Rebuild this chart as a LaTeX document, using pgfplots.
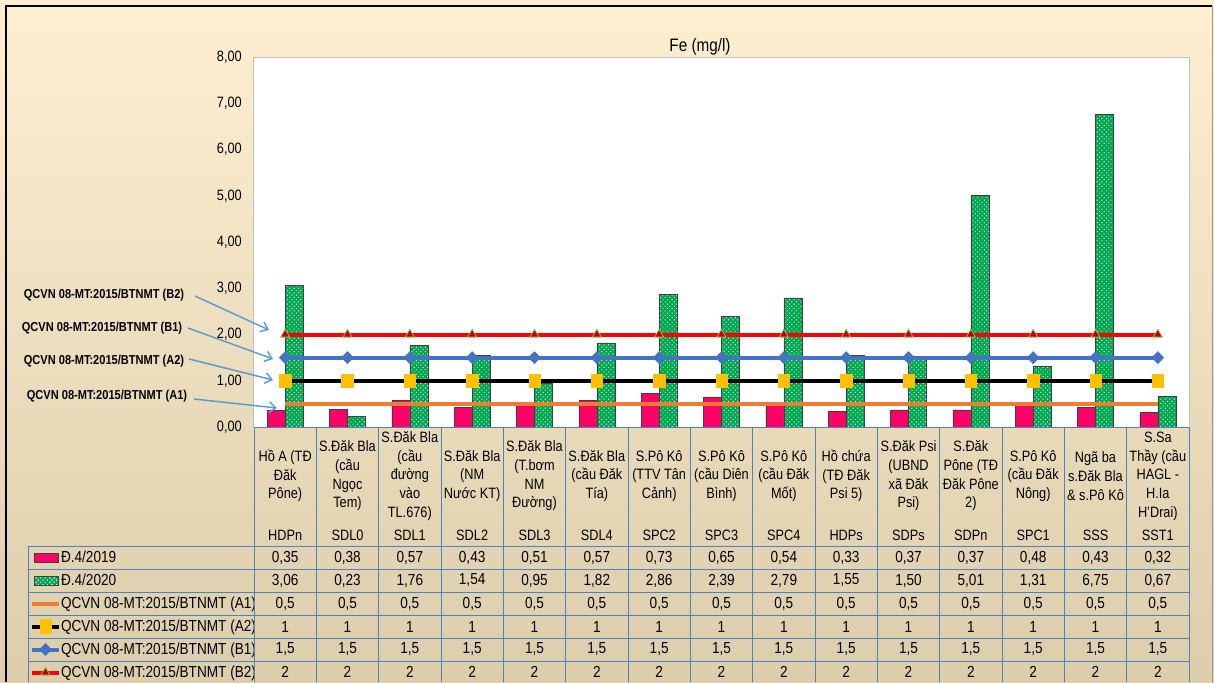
\documentclass[border=0pt]{standalone}
\usepackage{fontspec}
\setmainfont{Liberation Sans}[FakeStretch=0.85]
\usepackage{pgfplots}
\pgfplotsset{compat=1.18}
\usetikzlibrary{patterns.meta,arrows.meta}
\definecolor{bgtop}{RGB}{253,239,208}
\definecolor{bgbot}{RGB}{220,206,172}
\definecolor{pinkbar}{RGB}{255,0,102}
\definecolor{greenbar}{RGB}{0,168,80}
\definecolor{orA}{RGB}{237,125,49}
\definecolor{yelA}{RGB}{255,192,0}
\definecolor{bluB}{RGB}{68,114,196}
\definecolor{redB}{RGB}{255,0,0}
\definecolor{drB}{RGB}{192,0,0}
\definecolor{olB}{RGB}{155,187,89}
\definecolor{tblue}{RGB}{79,129,189}
\definecolor{arrowc}{RGB}{91,155,213}
\definecolor{plotborder}{RGB}{191,191,191}
\pgfkeys{/pgf/number format/assume math mode=true}
\pgfplotsset{
  mylinelegend/.style={legend image code/.code={\draw[##1, mark repeat=2, mark phase=2] plot coordinates {(0pt,3.875pt) (10.125pt,3.875pt) (20.25pt,3.875pt)};}},
  pinklegend/.style={legend image code/.code={\draw[fill=pinkbar, draw=black!75, line width=0.5pt] (1.5pt,0.5pt) rectangle (19.5pt,7.25pt);}},
  greenlegend/.style={legend image code/.code={\draw[fill=greenbar, draw=black!75, line width=0.5pt, postaction={pattern={Dots[distance=2.4pt,radius=0.5pt,angle=45]}, pattern color=white}] (1.5pt,0.5pt) rectangle (19.5pt,7.25pt);}},
}
\begin{document}
\begin{tikzpicture}
\shade[top color=bgtop, bottom color=bgbot] (0pt,0pt) rectangle (910.5pt,-511.5pt);
\useasboundingbox (0pt,0pt) rectangle (910.5pt,-511.5pt);
\begin{axis}[
  at={(190.5pt,-320.25pt)}, anchor=south west,
  width=701.25pt, height=277.5pt, scale only axis,
  xmin=0.5, xmax=15.5, ymin=0, ymax=8,
  xtick=\empty, ytick={0,1,...,8},
  major tick length=0pt,
  axis line style={draw=plotborder, line width=0.75pt},
  axis background/.style={fill=white},
  /pgf/number format/assume math mode=true,
  yticklabel style={/pgf/number format/.cd, fixed, fixed zerofill, precision=2, use comma, /tikz/.cd, font=\fontsize{11.25}{13}\selectfont, inner sep=0pt, anchor=east, xshift=-9pt},
  legend cell align=left,
  legend style={at={(-0.23957,-0.32162)}, anchor=north west, draw=none, fill=none, inner sep=0pt, outer sep=0pt, row sep=0pt, column sep=0pt, font=\fontsize{12}{14}\selectfont, nodes={inner sep=0pt, outer sep=0pt, text height=12.5pt, text depth=4.75pt, anchor=base west}},
]
\addplot[ybar, bar width=13.5pt, bar shift=-6.75pt, fill=pinkbar, draw=black!75, line width=0.5pt, pinklegend]
  coordinates {(1,0.35) (2,0.38) (3,0.57) (4,0.43) (5,0.51) (6,0.57) (7,0.73) (8,0.65) (9,0.54) (10,0.33) (11,0.37) (12,0.37) (13,0.48) (14,0.43) (15,0.32)};
\addplot[ybar, bar width=13.5pt, bar shift=6.75pt, fill=greenbar, draw=black!75, line width=0.5pt,
  postaction={pattern={Dots[distance=2.4pt,radius=0.5pt,angle=45]}, pattern color=white}, greenlegend]
  coordinates {(1,3.06) (2,0.23) (3,1.76) (4,1.54) (5,0.95) (6,1.82) (7,2.86) (8,2.39) (9,2.79) (10,1.55) (11,1.50) (12,5.01) (13,1.31) (14,6.75) (15,0.67)};
\addplot[orA, line width=3pt, no markers, mylinelegend]
  coordinates {(1,0.5) (2,0.5) (3,0.5) (4,0.5) (5,0.5) (6,0.5) (7,0.5) (8,0.5) (9,0.5) (10,0.5) (11,0.5) (12,0.5) (13,0.5) (14,0.5) (15,0.5)};
\addplot[black, line width=3pt, mark=square*, mark size=4.3pt, mark options={fill=yelA, draw=yelA, line width=0.4pt, yscale=1.2, solid}, mylinelegend]
  coordinates {(1,1) (2,1) (3,1) (4,1) (5,1) (6,1) (7,1) (8,1) (9,1) (10,1) (11,1) (12,1) (13,1) (14,1) (15,1)};
\addplot[bluB, line width=3pt, mark=diamond*, mark size=4.5pt, mark options={fill=bluB, draw=bluB, line width=0.4pt, xscale=1.3, solid}, mylinelegend]
  coordinates {(1,1.5) (2,1.5) (3,1.5) (4,1.5) (5,1.5) (6,1.5) (7,1.5) (8,1.5) (9,1.5) (10,1.5) (11,1.5) (12,1.5) (13,1.5) (14,1.5) (15,1.5)};
\addplot[redB, line width=3pt, mark=triangle*, mark size=3.9pt, mark options={fill=drB, draw=olB, line width=0.6pt, solid}, mylinelegend]
  coordinates {(1,2) (2,2) (3,2) (4,2) (5,2) (6,2) (7,2) (8,2) (9,2) (10,2) (11,2) (12,2) (13,2) (14,2) (15,2)};
\legend{Đ.4/2019, Đ.4/2020, QCVN 08-MT:2015/BTNMT (A1), QCVN 08-MT:2015/BTNMT (A2), QCVN 08-MT:2015/BTNMT (B1), QCVN 08-MT:2015/BTNMT (B2)}
\end{axis}
\begin{scope}[x=0.75pt, y=-0.75pt]
% frame
\draw[black, line width=1.5pt] (6,682) -- (6,6) -- (1212,6);
\draw[black!40, line width=0.75pt] (1212,6) -- (1212,682);
% title
\node[font=\fontsize{13.5}{16}\selectfont] at (700,47) {Fe (mg/l)};
% table grid
\begin{scope}[tblue, line width=0.75pt]
\draw (254,427) -- (1189,427);
\foreach \yy in {546,569,592,615,638,661} \draw (28,\yy) -- (1189,\yy);
\foreach \k in {0,...,15} \draw ({254+62.333*\k},427) -- ({254+62.333*\k},682);
\draw (28,546) -- (28,682);
\end{scope}
% category labels
\foreach \lab [count=\i from 0] in {
  {Hồ A (TĐ\\Đăk\\Pône)},
  {S.Đăk Bla\\(cầu\\Ngọc\\Tem)},
  {S.Đăk Bla\\(cầu\\đường\\vào\\TL.676)},
  {S.Đăk Bla\\(NM\\Nước KT)},
  {S.Đăk Bla\\(T.bơm\\NM\\Đường)},
  {S.Đăk Bla\\(cầu Đăk\\Tía)},
  {S.Pô Kô\\(TTV Tân\\Cảnh)},
  {S.Pô Kô\\(cầu Diên\\Bình)},
  {S.Pô Kô\\(cầu Đăk\\Mốt)},
  {Hồ chứa\\(TĐ Đăk\\Psi 5)},
  {S.Đăk Psi\\(UBND\\xã Đăk\\Psi)},
  {S.Đăk\\Pône (TĐ\\Đăk Pône\\2)},
  {S.Pô Kô\\(cầu Đăk\\Nông)},
  {Ngã ba\\s.Đăk Bla\\\& s.Pô Kô},
  {S.Sa\\Thầy (cầu\\HAGL -\\H.Ia\\H’Drai)}}
  \node[align=center, inner sep=0pt, font=\fontsize{11.25}{14}\selectfont] at ({254+62.333*(\i+0.5)},476) {\lab};
\foreach \cd [count=\i from 0] in {HDPn,SDL0,SDL1,SDL2,SDL3,SDL4,SPC2,SPC3,SPC4,HDPs,SDPs,SDPn,SPC1,SSS,SST1}
  \node[inner sep=0pt, font=\fontsize{11.25}{14}\selectfont] at ({254+62.333*(\i+0.5)},535) {\cd};
% table values
\begin{scope}[font=\fontsize{12}{14}\selectfont]
\foreach \v [count=\i from 0] in {0.35,0.38,0.57,0.43,0.51,0.57,0.73,0.65,0.54,0.33,0.37,0.37,0.48,0.43,0.32}
  \node[inner sep=0pt] at ({254+62.333*(\i+0.5)},557.5) {\pgfmathprintnumber[fixed,fixed zerofill,precision=2,use comma]{\v}};
\foreach \v [count=\i from 0] in {3.06,0.23,1.76,1.54,0.95,1.82,2.86,2.39,2.79,1.55,1.50,5.01,1.31,6.75,0.67}
  \node[inner sep=0pt] at ({254+62.333*(\i+0.5)},580.5) {\pgfmathprintnumber[fixed,fixed zerofill,precision=2,use comma]{\v}};
\foreach \i in {0,...,14} {
  \node[inner sep=0pt] at ({254+62.333*(\i+0.5)},603.5) {0,5};
  \node[inner sep=0pt] at ({254+62.333*(\i+0.5)},626.5) {1};
  \node[inner sep=0pt] at ({254+62.333*(\i+0.5)},649.5) {1,5};
  \node[inner sep=0pt] at ({254+62.333*(\i+0.5)},671.5) {2};
}
\end{scope}
% annotations
\begin{scope}[font=\bfseries\fontsize{9.75}{11}\selectfont]
\node at (104,295) {QCVN 08-MT:2015/BTNMT (B2)};
\node at (102,328) {QCVN 08-MT:2015/BTNMT (B1)};
\node at (104,361) {QCVN 08-MT:2015/BTNMT (A2)};
\node at (107,396) {QCVN 08-MT:2015/BTNMT (A1)};
\end{scope}
\begin{scope}[arrowc, line width=1.1pt, -{Straight Barb[length=5pt,width=8pt]}]
\draw (195,296) -- (269,330);
\draw (188,328) -- (273,359);
\draw (189,359) -- (273,380);
\draw (194,399) -- (277,408);
\end{scope}
\end{scope}
\end{tikzpicture}
\end{document}
